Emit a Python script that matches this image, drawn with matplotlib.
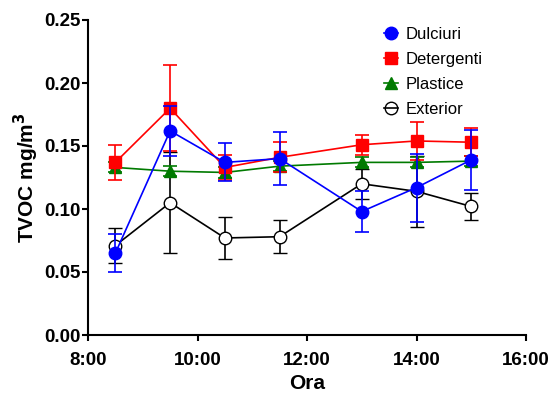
import matplotlib
matplotlib.use("Agg")
import matplotlib.pyplot as plt
from matplotlib.lines import Line2D

hours = [8.5, 9.5, 10.5, 11.5, 13.0, 14.0, 15.0]
xticks = [8, 10, 12, 14, 16]
xticklabels = ["8:00", "10:00", "12:00", "14:00", "16:00"]
yticks = [0.00, 0.05, 0.10, 0.15, 0.20, 0.25]

dulciuri = [0.065, 0.162, 0.137, 0.140, 0.098, 0.117, 0.139]
dulciuri_err = [0.015, 0.020, 0.015, 0.021, 0.016, 0.027, 0.024]
detergenti = [0.137, 0.180, 0.133, 0.141, 0.151, 0.154, 0.153]
detergenti_err = [0.014, 0.034, 0.010, 0.012, 0.008, 0.015, 0.011]
plastice = [0.133, 0.130, 0.129, 0.134, 0.137, 0.137, 0.138]
plastice_err = [0.004, 0.004, 0.004, 0.004, 0.004, 0.004, 0.004]
exterior = [0.071, 0.105, 0.077, 0.078, 0.120, 0.114, 0.102]
exterior_err = [0.014, 0.040, 0.017, 0.013, 0.012, 0.028, 0.011]

plt.rcParams['font.family'] = ['Liberation Sans', 'DejaVu Sans']

fig = plt.figure(figsize=(5.55, 3.97), dpi=100)
ax = fig.add_axes([88/555, 1-335/397, (526-88)/555, (335-20)/397])

common = dict(capsize=5, elinewidth=1.2, capthick=1.2, lw=1.2, markersize=9)
h_ext = ax.errorbar(hours, exterior, yerr=exterior_err, color='black', marker='o',
                    mfc='white', mec='black', mew=1.0, zorder=2, **common)
h_pla = ax.errorbar(hours, plastice, yerr=plastice_err, color='#007a00', marker='^',
                    zorder=3, **common)
h_det = ax.errorbar(hours, detergenti, yerr=detergenti_err, color='#ff0000', marker='s',
                    zorder=4, **common)
h_dul = ax.errorbar(hours, dulciuri, yerr=dulciuri_err, color='#0000ff', marker='o',
                    zorder=5, **common)

ax.set_xlim(8, 16)
ax.set_ylim(0, 0.25)
ax.set_xticks(xticks)
ax.set_xticklabels(xticklabels)
ax.set_yticks(yticks)
ax.set_yticklabels([f"{v:.2f}" for v in yticks])
for s in ['top', 'right']:
    ax.spines[s].set_visible(False)
for s in ['left', 'bottom']:
    ax.spines[s].set_linewidth(1.5)
ax.tick_params(width=1.5, length=4, labelsize=13.5)
ax.tick_params(axis='x', pad=8)
ax.tick_params(axis='y', pad=1)
for lab in ax.get_xticklabels() + ax.get_yticklabels():
    lab.set_fontweight('bold')
ax.set_xlabel("Ora", fontsize=15, fontweight='bold', labelpad=4)
ax.set_ylabel("TVOC mg/m$^\\mathbf{3}$", fontsize=15, fontweight='bold', labelpad=3)

ext_proxy = Line2D([], [], color='black', marker='o', mfc='none', mec='black',
                   mew=1.0, lw=1.2, markersize=9)
leg = fig.legend([h_dul[0], h_det[0], h_pla[0], ext_proxy],
                 ["Dulciuri", "Detergenti", "Plastice", "Exterior"],
                 loc='upper left', bbox_to_anchor=(384/555, 1-27/397), frameon=False,
                 fontsize=12, handlelength=0.85, handletextpad=0.42, labelspacing=0.6,
                 borderpad=0, borderaxespad=0, markerscale=1.0)

fig.savefig("out.png", dpi=100)
